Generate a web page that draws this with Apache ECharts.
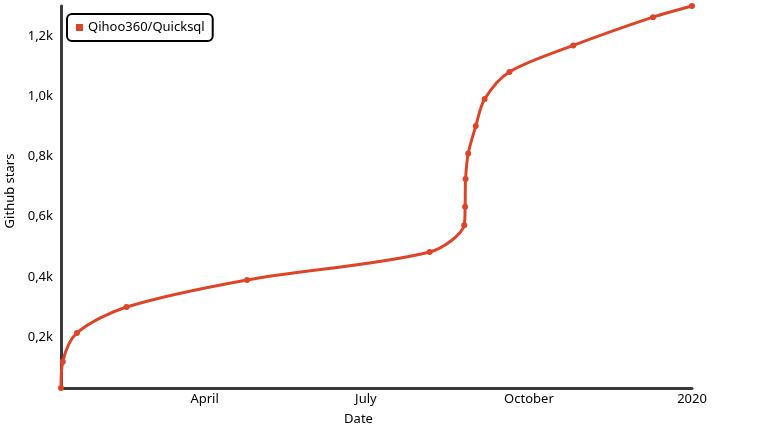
<!DOCTYPE html>
<html>
<head>
<meta charset="utf-8">
<script src="https://cdn.jsdelivr.net/npm/echarts@6/dist/echarts.min.js"></script>
<style>
html,body{margin:0;padding:0;background:#fff;}
#chart{width:779px;height:425px;}
</style>
</head>
<body>
<div id="chart"></div>
<script>
var seriesName = 'Qihoo360/Quicksql';
var dates = ['2019-01-10','2019-01-11','2019-01-19','2019-02-16','2019-04-25','2019-08-06','2019-08-25 12:00','2019-08-26 00:00','2019-08-26 06:00','2019-08-27 18:00','2019-09-01','2019-09-06','2019-09-20','2019-10-26','2019-12-10','2020-01-01'];
var stars = [31,118,214,300,390,483,572,633,725,810,901,991,1081,1169,1263,1300];
var yTicks = [200,400,600,800,1000,1200];
var yTickLabels = ['0,2k','0,4k','0,6k','0,8k','1,0k','1,2k'];
var xTickDates = ['2019-04-01','2019-07-01','2019-10-01','2020-01-01'];
var xTickLabels = ['April','July','October','2020'];

var font = '"Noto Sans", sans-serif';
function ts(d){ return d.length>10 ? new Date(d.replace(' ','T')+':00').getTime() : new Date(d+'T00:00:00').getTime(); }
var xTickValues = xTickDates.map(ts);
var chart = echarts.init(document.getElementById('chart'));
chart.setOption({
  animation:false,
  backgroundColor:'#fff',
  textStyle:{fontFamily:font},
  legend:{
    data:[seriesName],
    left:67, top:14,
    orient:'horizontal',
    icon:'rect',
    itemWidth:7, itemHeight:7, itemGap:5,
    borderColor:'#000', borderWidth:2, borderRadius:5,
    padding:[7,8,7,9],
    textStyle:{fontFamily:font,fontSize:13,color:'#000'}
  },
  grid:{left:61,right:87,top:6,bottom:37,containLabel:false,outerBoundsMode:'none'},
  xAxis:{
    type:'value',
    min:ts('2019-01-10'),
    max:ts('2020-01-01'),
    name:'Date', nameLocation:'middle', nameGap:25,
    nameTextStyle:{fontFamily:font,fontSize:13,color:'#000',padding:[0,36,0,0]},
    axisLine:{show:true,lineStyle:{color:'#3a3a3a',width:3}},
    axisTick:{show:false},
    splitLine:{show:false},
    axisLabel:{
      customValues:xTickValues,
      color:'#000',fontSize:13,fontFamily:font,margin:5,
      formatter:function(v){var i=xTickValues.indexOf(v);return i>=0?xTickLabels[i]:'';}
    }
  },
  yAxis:{
    type:'value',
    min:31, max:1300,
    name:'Github stars', nameLocation:'middle', nameGap:43,
    nameTextStyle:{fontFamily:font,fontSize:13,color:'#000',padding:[0,0,0,12]},
    axisLine:{show:true,lineStyle:{color:'#3a3a3a',width:3}},
    axisTick:{show:false},
    splitLine:{show:false},
    axisLabel:{
      customValues:yTicks,
      color:'#000',fontSize:13,fontFamily:font,margin:8,
      formatter:function(v){var i=yTicks.indexOf(v);return i>=0?yTickLabels[i]:'';}
    }
  },
  series:[{
    name:seriesName,
    type:'line',
    data:dates.map(function(d,i){return [ts(d),stars[i]];}),
    smooth:0.3,
    symbol:'circle',
    symbolSize:6,
    itemStyle:{color:'#dd4528'},
    lineStyle:{color:'#dd4528',width:3}
  }]
});
</script>
</body>
</html>
